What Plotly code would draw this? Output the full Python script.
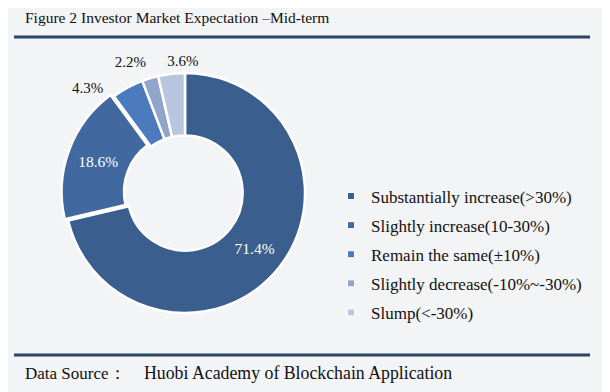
import numpy as np
import plotly.graph_objects as go

labels = ["Substantially increase(>30%)", "Slightly increase(10-30%)", "Remain the same(±10%)",
          "Slightly decrease(-10%~-30%)", "Slump(<-30%)"]
values = [71.4, 18.6, 4.3, 2.2, 3.6]
colors = ["#3A5F8E", "#4169A0", "#4B7BBE", "#8FA6CA", "#B8C6DE"]
inside = [True, True, False, False, False]
pulls = [0, 0.03, 0, 0, 0]
# style nudges for outside labels (degrees / radius factors), as in the original layout
label_dtheta = [0, 0, -14.7, -5.9, 5.5]
label_r = [0, 0, 1.183, 1.175, 1.09]

W, H = 610, 392
OFF = 8  # page body margin
FONT = "Liberation Serif"


def fx(x):
    return (x - OFF) / W


def fy(y):
    return 1 - (y - OFF) / H


# pie geometry (page coords): centre (185,193), radius 120 (+pull room)
cx, cy, R = 185, 193, 120
R0 = R * (1 + max(pulls))
dom_x = [fx(cx - R0), fx(cx + R0)]
dom_y = [fy(cy + R0), fy(cy - R0)]
K = 1.35  # polar overlay is larger than the pie so labels fall inside its range
RP = R * K
pol_x = [fx(cx - RP), fx(cx + RP)]
pol_y = [fy(cy + RP), fy(cy - RP)]

fig = go.Figure()
fig.add_trace(go.Pie(
    labels=labels, values=values, hole=0.48, sort=False, direction="clockwise", rotation=0,
    marker=dict(colors=colors, line=dict(color="white", width=2.5)),
    texttemplate=[f"{v:.1f}%" if ins else "" for v, ins in zip(values, inside)],
    textinfo="text", textposition="inside", insidetextorientation="horizontal",
    textfont=dict(family=FONT, size=15.5, color="#FFFFFF"),
    pull=pulls, showlegend=False, hoverinfo="label+value",
    domain=dict(x=dom_x, y=dom_y),
))

vals = np.array(values)
total = vals.sum()
mid_deg = (np.cumsum(vals) - vals / 2) / total * 360
out_idx = [i for i, ins in enumerate(inside) if not ins]
fig.add_trace(go.Scatterpolar(
    r=[label_r[i] for i in out_idx],
    theta=[mid_deg[i] + label_dtheta[i] for i in out_idx],
    text=[f"{values[i]:.1f}%" for i in out_idx],
    mode="text", textposition="middle center", cliponaxis=False,
    textfont=dict(family=FONT, size=15, color="#111111"),
    showlegend=False, hoverinfo="skip",
))

for i, (lab, col) in enumerate(zip(labels, colors)):
    fig.add_trace(go.Scatter(
        x=[None], y=[None], mode="markers", name=lab, legendgroup=f"g{i}",
        marker=dict(symbol="square", size=7, color=col, line=dict(color="white", width=1)),
    ))

fig.update_layout(
    width=W, height=H, margin=dict(l=0, r=0, t=0, b=0, autoexpand=False),
    paper_bgcolor="#F3F4F6", plot_bgcolor="#F3F4F6",
    xaxis=dict(visible=False), yaxis=dict(visible=False),
    polar=dict(
        domain=dict(x=pol_x, y=pol_y), bgcolor="rgba(0,0,0,0)",
        radialaxis=dict(visible=False, range=[0, K]),
        angularaxis=dict(visible=False, rotation=90, direction="clockwise"),
    ),
    showlegend=True,
    legend=dict(x=fx(331), y=fy(254.5), xanchor="left", yanchor="middle", tracegroupgap=4,
                font=dict(family=FONT, size=17, color="#111111"), bgcolor="rgba(0,0,0,0)",
                itemwidth=30),
    shapes=[
        dict(type="line", xref="paper", yref="paper", x0=fx(14), x1=fx(590),
             y0=fy(37), y1=fy(37), line=dict(color="#2C4467", width=3)),
        dict(type="line", xref="paper", yref="paper", x0=fx(14), x1=fx(590),
             y0=fy(355), y1=fy(355), line=dict(color="#2C4467", width=3)),
    ],
    annotations=[
        dict(text="Figure 2 Investor Market Expectation –Mid-term", xref="paper", yref="paper",
             x=fx(23), y=fy(18), xanchor="left", yanchor="middle", showarrow=False,
             font=dict(family=FONT, size=15.5, color="#111111")),
        dict(text="Data Source：", xref="paper", yref="paper",
             x=fx(23), y=fy(373), xanchor="left", yanchor="middle", showarrow=False,
             font=dict(family=FONT, size=17, color="#111111")),
        dict(text="Huobi Academy of Blockchain Application", xref="paper", yref="paper",
             x=fx(142), y=fy(373), xanchor="left", yanchor="middle", showarrow=False,
             font=dict(family=FONT, size=17.8, color="#111111")),
    ],
)

fig.write_html("out.html")
